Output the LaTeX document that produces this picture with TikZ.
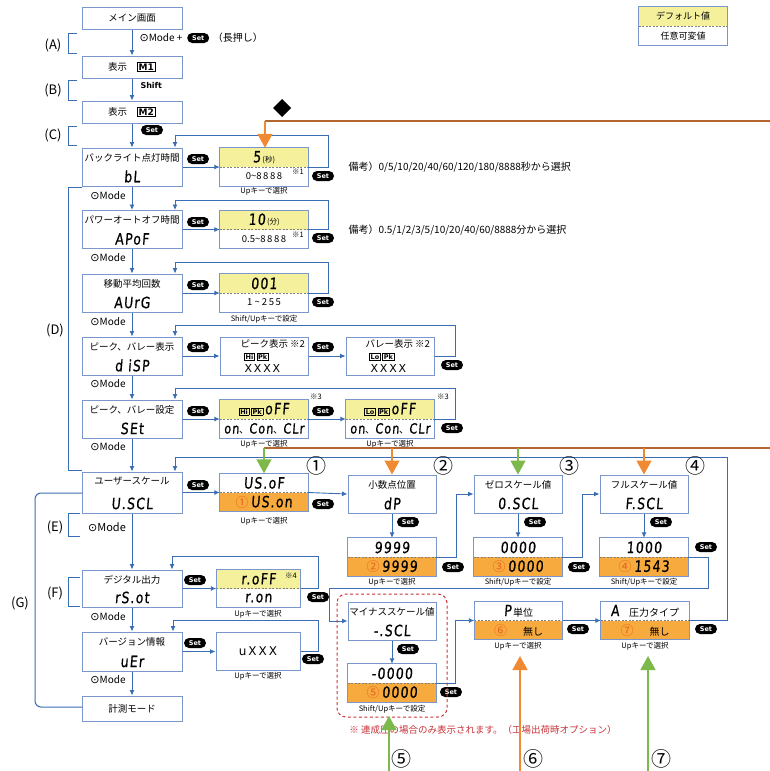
\documentclass[tikz,border=0pt]{standalone}
\usepackage{fontspec}
\setmainfont{Noto Sans CJK JP}
\newfontfamily\dv{DejaVu Sans}
\newfontfamily\segf[FakeStretch=0.8,FakeSlant=0.08,FakeBold=0.6,LetterSpace=8]{DejaVu Sans}
\usetikzlibrary{arrows.meta,calc,positioning}
\definecolor{bl}{HTML}{3B6DB5}
\definecolor{bd}{HTML}{7A97CC}
\definecolor{yl}{HTML}{F4F09C}
\definecolor{og}{HTML}{F7AA3E}
\definecolor{oa}{HTML}{F08A32}
\definecolor{gr}{HTML}{7CB84A}
\definecolor{br}{HTML}{B5652E}
\definecolor{rd}{HTML}{C8333A}
\definecolor{onum}{HTML}{E8621E}
\newcommand\sgx[1]{{\segf\fontsize{15.5}{15.5}\selectfont #1}}
\newcommand\sgv[1]{{\segf\fontsize{15.5}{15.5}\selectfont #1}}
\newcommand\cn[1]{{\color{onum}\fontsize{13}{13}\selectfont #1}}
\newcommand\kb[1]{{\setlength\fboxsep{0.8pt}\setlength\fboxrule{0.7pt}\fbox{\dv\bfseries\fontsize{6.5}{7}\selectfont #1}}}
\newcommand\mk[1]{{\setlength\fboxsep{1pt}\setlength\fboxrule{1pt}\fbox{\dv\bfseries\fontsize{9}{9}\selectfont #1}}}
\newcommand\md{{\dv\fontsize{11}{11}\selectfont ⊙}Mode}
\newcommand\valbox[7][]{%
\node[vb,#1] (#2) at (#3) {};
\fill[#4] (#2.north west) rectangle (#2.east);
\fill[#5] (#2.west) rectangle (#2.south east);
\draw[gray, line width=0.6pt, dash pattern=on 2pt off 1.5pt] (#2.west) -- (#2.east);
\node at ($(#2.north)!0.5!(#2.center)$) {#6};
\node at ($(#2.south)!0.5!(#2.center)$) {#7};
\draw[draw=bd, line width=1pt] (#2.north west) rectangle (#2.south east);
}
\newcommand\lbox[5][]{%
\node[box,#1] (#2) at (#3) {};
\node[lbl] at ($(#2.north)+(0,10)$) {#4};
\node at ($(#2.south)+(0,-10)$) {\sgx{#5}};
}
\begin{document}
\begin{tikzpicture}[x=1pt,y=-1pt,
 box/.style={draw=bd, line width=1pt, minimum width=100pt, minimum height=38pt, inner sep=0pt, fill=white},
 vb/.style={minimum width=88pt, minimum height=38pt, inner sep=0pt},
 lbl/.style={font=\fontsize{9.5}{10}\selectfont},
 pill/.style={fill=black, rounded corners=5pt, text=white, font=\dv\bfseries\fontsize{6.5}{6.5}\selectfont, minimum width=22pt, minimum height=10pt, inner sep=0pt},
 conn/.style={draw=bl, line width=0.9pt, -{Latex[length=5.5pt,width=5pt]}},
 capt/.style={font=\fontsize{7.5}{8}\selectfont},
 mode/.style={font=\fontsize{10}{10}\selectfont},
 brk/.style={draw=bl, line width=1pt},
 tag/.style={font=\fontsize{13}{13}\selectfont},
 bignum/.style={font=\fontsize{20}{20}\selectfont},
 bigarrow/.style={line width=1.4pt, -{Triangle[length=14pt,width=15pt]}}
]
\fill[white] (0,0) rectangle (770,771);
\useasboundingbox (0,0) rectangle (770,771);

% legend
\valbox{leg}{683,26}{yl}{white}{\fontsize{9}{9}\selectfont デフォルト値}{\fontsize{9}{9}\selectfont 任意可変値}

% left column
\node[box, minimum height=22pt, lbl] (main) at (132,18) {メイン画面};
\node[box, minimum height=22pt, lbl] (m1) at (132,67) {表示\quad\mk{M1}};
\node[box, minimum height=22pt, lbl] (m2) at (132,112) {表示\quad\mk{M2}};
\lbox{bl}{132,167}{バックライト点灯時間}{bL}
\lbox{apof}{132,229.5}{パワーオートオフ時間}{APoF}
\lbox{avg}{132,293}{移動平均回数}{AUrG}
\lbox{disp}{132,356}{ピーク、バレー表示}{d iSP}
\lbox{sett}{132,419}{ピーク、バレー設定}{SEt}
\lbox[minimum height=41pt]{uscl}{132,492.5}{ユーザースケール}{U.SCL}
\lbox[minimum height=37pt]{rsot}{132,588.5}{デジタル出力}{rS.ot}
\lbox[minimum height=39pt]{uer}{132,651.5}{バージョン情報}{uEr}
\node[box, minimum height=25pt, lbl] (meas) at (132,708.5) {計測モード};

% vertical arrows left
\draw[conn] (main) -- (m1);
\draw[conn] (m1) -- (m2);
\draw[conn] (m2) -- (bl);
\draw[conn] (bl) -- (apof);
\draw[conn] (apof) -- (avg);
\draw[conn] (avg) -- (disp);
\draw[conn] (disp) -- (sett);
\draw[conn] (sett) -- (uscl);
\draw[conn] (uscl) -- (rsot);
\draw[conn] (rsot) -- (uer);
\draw[conn] (uer) -- (meas);

% arrow labels
\node[mode, anchor=west] (ml) at (136,38) {\md\ +};
\node[pill, right=1pt of ml] (mp) {Set};
\node[font=\fontsize{10}{10}\selectfont, anchor=west] at (mp.east) {（長押し）};
\node[font=\dv\bfseries\fontsize{8}{8}\selectfont, anchor=west] at (137,86) {Shift};
\node[pill] (cp) at (152,130) {Set};
\node[mode] at (108,196) {\md};
\node[mode] at (108,258) {\md};
\node[mode] at (108,322) {\md};
\node[mode] at (108,384) {\md};
\node[mode] at (108,447) {\md};
\node[font=\fontsize{11}{11}\selectfont] at (107,527) {\md};
\node[mode] at (108,617) {\md};
\node[mode] at (108,680) {\md};

% brackets and tags
\node[tag] at (53,45) {(A)};
\draw[brk] (77,33) -- (68,33) -- (68,53) -- (77,53);
\node[tag] at (53,90) {(B)};
\draw[brk] (77,80) -- (68,80) -- (68,100) -- (77,100);
\node[tag] at (53,135) {(C)};
\draw[brk] (77,126) -- (68,126) -- (68,145) -- (77,145);
\node[tag] at (55,330) {(D)};
\draw[brk] (82,187) -- (68,187) -- (68,470) -- (82,470);
\node[tag] at (55,527) {(E)};
\draw[brk] (80,513) -- (68,513) -- (68,536) -- (80,536);
\node[tag] at (55,593) {(F)};
\draw[brk] (80,577) -- (68,577) -- (68,606) -- (80,606);
\node[tag] at (20,603) {(G)};
\draw[brk, rounded corners=6pt] (82,493) -- (35,493) -- (35,707) -- (82,707);

% row bL
\valbox{v1}{264,167}{yl}{white}{\sgv{5}\,{\fontsize{7.5}{7.5}\selectfont (秒)}}{\fontsize{9.5}{9.5}\selectfont 0\string~8\,8\,8\,8\hspace{12pt}}
\node[font=\fontsize{7.5}{7.5}\selectfont] at (298,172) {※1};
\node[pill] at (198,159) {Set};
\node[pill] at (323,176) {Set};
\draw[conn] (bl.east) -- (v1.west);
\node[capt] at (264,191) {Upキーで選択};
\node[font=\fontsize{10}{10}\selectfont, anchor=west] at (345,167) {備考）0/5/10/20/40/60/120/180/8888秒から選択};

% row APoF
\valbox{v2}{264,229.5}{yl}{white}{\sgv{10}\,{\fontsize{7.5}{7.5}\selectfont (分)}}{\fontsize{9.5}{9.5}\selectfont 0.5\string~8\,8\,8\,8\hspace{10pt}}
\node[font=\fontsize{7.5}{7.5}\selectfont] at (298,235) {※1};
\node[pill] at (198,222) {Set};
\node[pill] at (323,238) {Set};
\draw[conn] (apof.east) -- (v2.west);
\node[font=\fontsize{10}{10}\selectfont, anchor=west] at (345,230) {備考）0.5/1/2/3/5/10/20/40/60/8888分から選択};

% row AUrG
\valbox{v3}{264,293}{yl}{white}{\sgv{001}}{\fontsize{9.5}{9.5}\selectfont 1 \string~ 2\,5\,5}
\node[pill] at (198,285) {Set};
\node[pill] at (323,302) {Set};
\draw[conn] (avg.east) -- (v3.west);
\node[capt] at (264,319) {Shift/Upキーで設定};

% row disp
\node[box, minimum width=88pt] (pk) at (264,356) {};
\node[font=\fontsize{9.5}{9.5}\selectfont, anchor=west] at (237,344) {ピーク表示 ※2};
\node[anchor=west, inner sep=0pt] at (244,357) {\kb{Hi}\,\kb{Pk}};
\node[anchor=west, font=\dv\fontsize{11}{11}\selectfont] at (241,368) {X\,X\,X\,X};
\node[box, minimum width=88pt] (pv) at (390,356) {};
\node[font=\fontsize{9.5}{9.5}\selectfont, anchor=west] at (362,344) {バレー表示 ※2};
\node[anchor=west, inner sep=0pt] at (369,357) {\kb{Lo}\,\kb{Pk}};
\node[anchor=west, font=\dv\fontsize{11}{11}\selectfont] at (367,368) {X\,X\,X\,X};
\node[pill] at (198,347) {Set};
\node[pill] at (323,347) {Set};
\node[pill] at (452,365) {Set};
\draw[conn] (disp.east) -- (pk.west);
\draw[conn] (pk.east) -- (pv.west);

% row SEt
\valbox{s1}{264,419}{yl}{white}{\kb{Hi}\,\kb{Pk}\,\sgv{oFF}}{{\segf\fontsize{14}{14}\selectfont on}、{\segf\fontsize{14}{14}\selectfont Con}、{\segf\fontsize{14}{14}\selectfont CLr}}
\valbox{s2}{390,419}{yl}{white}{\kb{Lo}\,\kb{Pk}\,\sgv{oFF}}{{\segf\fontsize{14}{14}\selectfont on}、{\segf\fontsize{14}{14}\selectfont Con}、{\segf\fontsize{14}{14}\selectfont CLr}}
\node[font=\fontsize{7.5}{7.5}\selectfont] at (316,397) {※3};
\node[font=\fontsize{7.5}{7.5}\selectfont] at (443,397) {※3};
\node[pill] at (198,411) {Set};
\node[pill] at (323,411) {Set};
\node[pill] at (452,428) {Set};
\draw[conn] (sett.east) -- (s1.west);
\draw[conn] (s1.east) -- (s2.west);
\node[capt] at (264,444) {Upキーで選択};
\node[capt] at (390,444) {Upキーで選択};

% loops D
\draw[conn] (v1.east) -- (328,167) -- (328,135) -| ($(bl.north)+(43,0)$);
\draw[conn] (v2.east) -- (328,229.5) -- (328,200) -| ($(apof.north)+(43,0)$);
\draw[conn] (v3.east) -- (328,293) -- (328,262) -| ($(avg.north)+(43,0)$);
\draw[conn] (pv.east) -- (455,356) -- (455,325) -| ($(disp.north)+(43,0)$);
\draw[conn] (s2.east) -- (455,419) -- (455,388) -| ($(sett.north)+(43,0)$);

% row U.SCL chain
\valbox{u1}{264,492.5}{white}{og}{\sgv{US.oF}}{\cn{①}\ \sgv{US.on}}
\node[pill] at (198,485) {Set};
\node[pill] at (323,504) {Set};
\draw[conn] (uscl.east) -- (u1.west);
\node[capt] at (264,521) {Upキーで選択};

\node[box, minimum width=88pt] (dp) at (392,494) {};
\node[lbl] at ($(dp.north)+(0,10)$) {小数点位置};
\node at ($(dp.south)+(0,-10)$) {\sgx{dP}};
\valbox{dp2}{392,557}{white}{og}{\sgv{9999}}{\cn{②}\ \sgv{9999}}
\node[pill] at (408,522) {Set};
\node[pill] at (453,567) {Set};
\node[capt] at (392,582) {Upキーで選択};

\node[box, minimum width=88pt] (zs) at (518,494) {};
\node[lbl] at ($(zs.north)+(0,10)$) {ゼロスケール値};
\node at ($(zs.south)+(0,-10)$) {\sgx{0.SCL}};
\valbox{zs2}{518,557}{white}{og}{\sgv{0000}}{\cn{③}\ \sgv{0000}}
\node[pill] at (535,522) {Set};
\node[pill] at (579,567) {Set};
\node[capt] at (518,582) {Shift/Upキーで設定};

\node[box, minimum width=88pt] (fs) at (644,494) {};
\node[lbl] at ($(fs.north)+(0,10)$) {フルスケール値};
\node at ($(fs.south)+(0,-10)$) {\sgx{F.SCL}};
\valbox{fs2}{644,557}{white}{og}{\sgv{1000}}{\cn{④}\ \sgv{1543}}
\node[pill] at (661,522) {Set};
\node[pill] at (706,547) {Set};
\node[capt] at (644,582) {Shift/Upキーで設定};

\node[box, minimum width=88pt] (ms) at (392,621) {};
\node[lbl] at ($(ms.north)+(0,10)$) {マイナススケール値};
\node at ($(ms.south)+(0,-10)$) {\sgx{-.SCL}};
\valbox{ms2}{392,683}{white}{og}{\sgv{-0000}}{\cn{⑤}\ \sgv{0000}}
\node[pill] at (408,649) {Set};
\node[pill] at (451,692) {Set};
\node[capt] at (392,709) {Shift/Upキーで設定};

\valbox{pb}{518.5,620.5}{white}{og}{\sgv{P}\,{\fontsize{10}{10}\selectfont 単位}}{\cn{⑥}\hspace{16pt}{\fontsize{10}{10}\selectfont 無し}\hspace{26pt}}
\node[pill] at (578,629) {Set};
\node[capt] at (518,646) {Upキーで選択};
\valbox{ab}{645,620.5}{white}{og}{\sgv{A}\hspace{10pt}{\fontsize{10}{10}\selectfont 圧力タイプ}}{\cn{⑦}\hspace{16pt}{\fontsize{10}{10}\selectfont 無し}\hspace{26pt}}
\node[pill] at (706,629) {Set};
\node[capt] at (645,646) {Upキーで選択};

\draw[conn] (u1.east) -- (dp.west);
\draw[conn] (dp.south) -- (dp2.north);
\draw[conn] (dp2.east) -- (456,557) |- (zs.west);
\draw[conn] (zs.south) -- (zs2.north);
\draw[conn] (zs2.east) -- (582,557) |- (fs.west);
\draw[conn] (fs.south) -- (fs2.north);
\draw[conn] (fs2.east) -- (708,557) -- (708,588) -- (329,588) |- (ms.west);
\draw[conn] (ms.south) -- (ms2.north);
\draw[conn] (ms2.east) -- (455,683) |- (pb.west);
\draw[conn] (pb.east) -- (ab.west);
\draw[conn] (ab.east) -- (727,620.5) -- (727,457) -| ($(uscl.north)+(43,0)$);

% F row
\valbox[minimum width=84pt]{rv}{258.5,588.5}{yl}{white}{\sgv{r.oFF}}{\sgx{r.on}}
\node[font=\fontsize{7.5}{7.5}\selectfont] at (291,576) {※4};
\node[pill] at (195,580) {Set};
\node[pill] at (318,597) {Set};
\draw[conn] (rsot.east) -- (rv.west);
\node[capt] at (258,614) {Upキーで選択};
\draw[conn] (rv.east) -- (318,588.5) -- (318,556) -| ($(rsot.north)+(40,0)$);

\node[box, minimum width=84pt] (uv) at (258,651.5) {\dv\fontsize{12}{12}\selectfont u\,X\,X\,X};
\node[pill] at (195,643) {Set};
\node[pill] at (313,659) {Set};
\draw[conn] (uer.east) -- (uv.west);
\node[capt] at (258,676) {Upキーで選択};
\draw[conn] (uv.east) -- (318,651.5) -- (318,620) -| ($(uer.north)+(41,0)$);

% red dashed area
\draw[rd, line width=1pt, rounded corners=9pt, dash pattern=on 3pt off 2.5pt] (337,594) rectangle (447,717);
\node[text=rd, font=\fontsize{9.5}{9.5}\selectfont] at (483,730) {※ 連成圧の場合のみ表示されます。（工場出荷時オプション）};

% colored arrows top row
\coordinate (r1) at (770,121);
\coordinate (j1) at (265,121);
\draw[br, line width=1.1pt] (r1) -- (j1);
\draw[oa, bigarrow] (j1) -- (j1 |- v1.north);
\fill (282,99) -- (291,108) -- (282,117) -- (273,108) -- cycle;

% colored arrows U.SCL row
\coordinate (r2) at (770,448);
\coordinate (j2) at (264,448);
\draw[br, line width=1.1pt] (r2) -- (j2);
\draw[gr, bigarrow] (j2) -- (u1.north);
\draw[oa, bigarrow] (dp.north |- j2) -- (dp.north);
\draw[gr, bigarrow] (zs.north |- j2) -- (zs.north);
\draw[oa, bigarrow] (fs.north |- j2) -- (fs.north);
\node[bignum] at (316,466) {①};
\node[bignum] at (443,466) {②};
\node[bignum] at (569,466) {③};
\node[bignum] at (695,466) {④};

% bottom arrows
\coordinate (b5) at (389,771);
\coordinate (b6) at (520,771);
\coordinate (b7) at (648,771);
\coordinate (t5) at (389,716);
\coordinate (t6) at (520,656);
\coordinate (t7) at (648,656);
\draw[gr, bigarrow] (b5) -- (t5);
\draw[oa, bigarrow] (b6) -- (t6);
\draw[gr, bigarrow] (b7) -- (t7);
\node[bignum] at (401,759) {⑤};
\node[bignum] at (533,759) {⑥};
\node[bignum] at (661,759) {⑦};
\end{tikzpicture}
\end{document}
